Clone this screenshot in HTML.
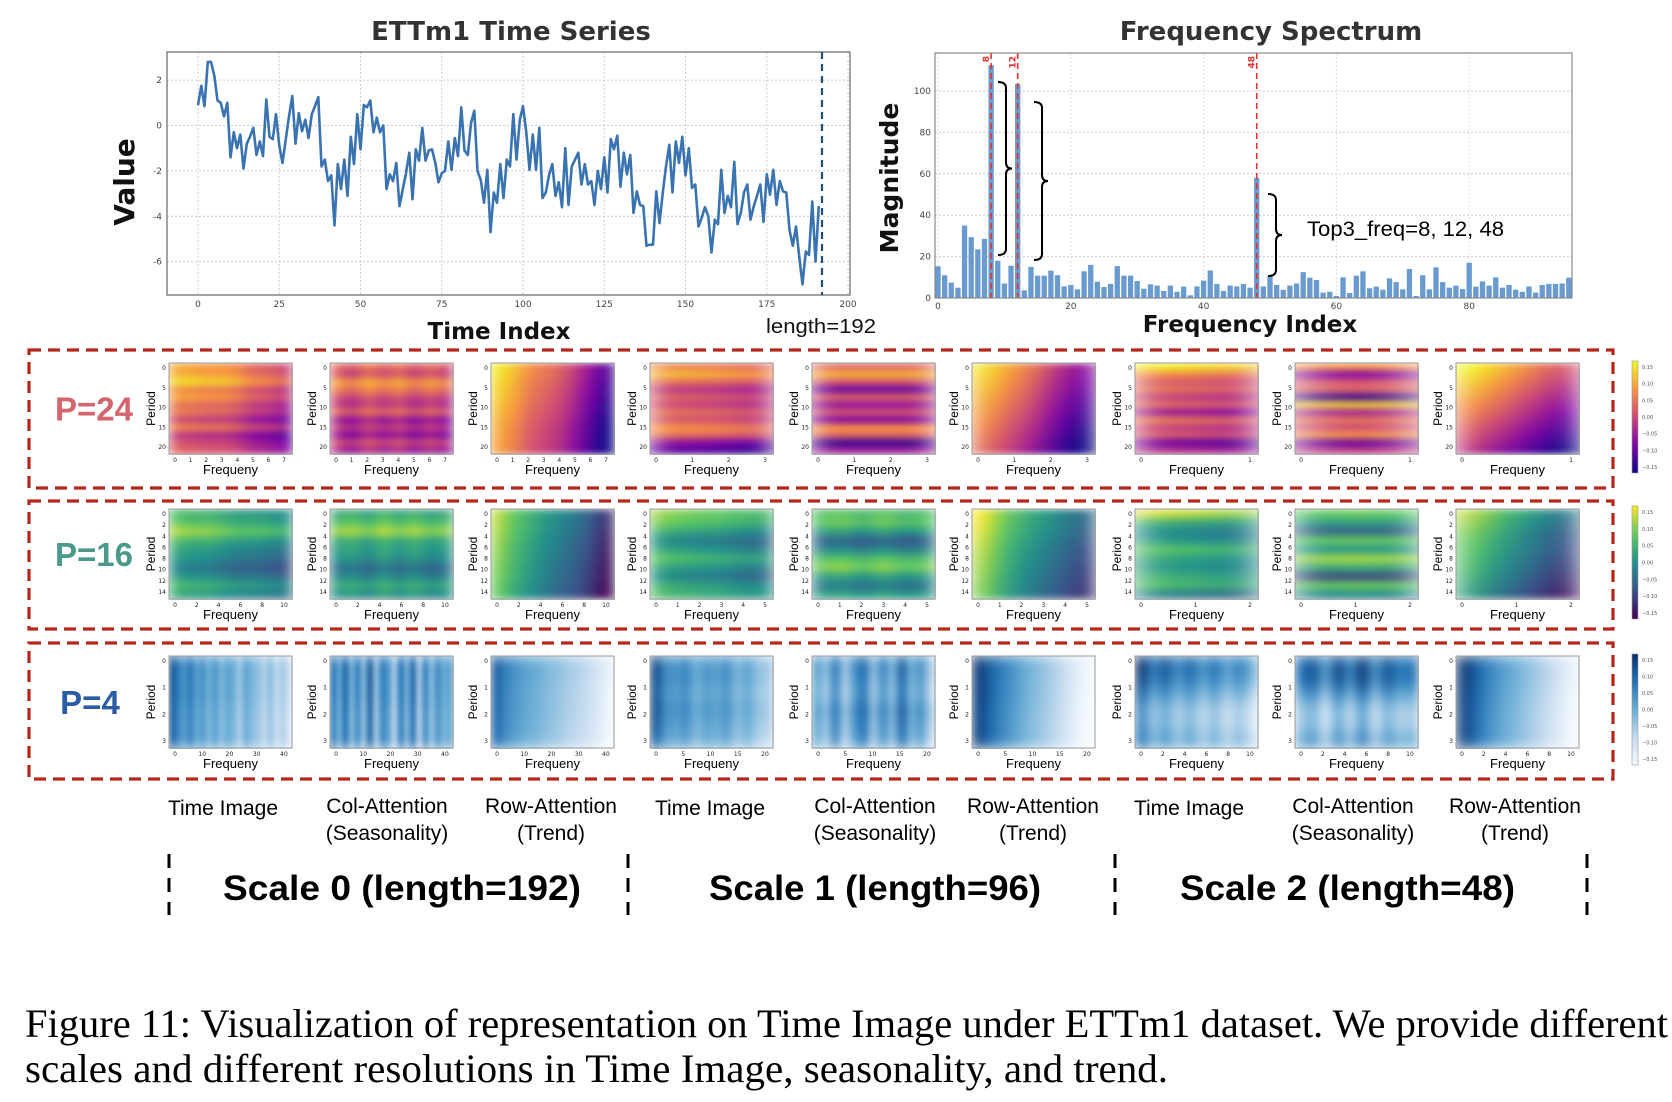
<!DOCTYPE html>
<html><head><meta charset="utf-8">
<style>
html,body{margin:0;padding:0;background:#fff;}
svg{display:block;}
</style></head>
<body>
<svg id="fig" width="1672" height="1102" viewBox="0 0 1672 1102" xmlns="http://www.w3.org/2000/svg" font-family="'DejaVu Sans', 'Liberation Sans', sans-serif">
  <defs id="defs"></defs>
  <g id="ts"></g>
  <g id="fs"></g>
  <g id="hm"></g>
  <g id="bottom">
    <text x="25" y="1037" font-family="'Liberation Serif', serif" font-size="40" textLength="1643" lengthAdjust="spacingAndGlyphs" fill="#000">Figure 11: Visualization of representation on Time Image under ETTm1 dataset. We provide different</text>
    <text x="25" y="1082" font-family="'Liberation Serif', serif" font-size="40" textLength="1143" lengthAdjust="spacingAndGlyphs" fill="#000">scales and different resolutions in Time Image, seasonality, and trend.</text>
  </g>
</svg>
<script>
// ---------- data ----------
const tsValues = [0.9,1.75,0.85,2.8,2.8,2.2,1.1,1.0,0.4,1.0,-1.4,-0.3,-1,-0.4,-1.9,-0.8,-0.5,-0.1,-1.3,-0.7,-1.35,1.15,-0.5,-0.6,0.5,-0.9,-1.65,-0.6,0.4,1.3,-0.8,0.55,-0.25,0.25,-0.55,0.5,0.85,1.25,-1.8,-1.5,-2.45,-2.2,-4.4,-1.7,-2.8,-1.5,-3.1,-0.5,-1.7,0.5,-1.05,0.9,0.8,1.1,-0.3,0.35,-0.3,0,-2.8,-2.15,-2.45,-1.65,-3.55,-2.8,-2.1,-1.2,-3.25,-1.05,-1.55,-0.1,-1.55,-1.1,-1.05,-1.65,-2.5,-2.1,-2,-0.7,-1.95,-0.55,-1.35,0.8,-1.1,-1.3,0.1,0.65,-2,-2.4,-3.4,-1.95,-4.7,-2.95,-3.4,-1.7,-3.2,-1.5,-1.8,0.5,-1.5,0.25,0.85,-0.3,-1.95,-0.4,-1.95,-0.1,-3.2,-2.95,-2.2,-1.7,-3.1,-2.5,-3.6,-1,-3.5,-1.8,-1.5,-1.2,-2.6,-1.7,-2.6,-2.45,-3.5,-2,-2.8,-1.4,-2.95,-0.6,-1.05,-0.45,-2.7,-1.2,-2.15,-1.3,-3.85,-2.9,-3.5,-3.55,-5.3,-5.25,-5.25,-2.9,-4.3,-2.95,-1.8,-0.85,-2.95,-0.7,-1.65,-0.5,-2.2,-1,-2.75,-2.6,-4.45,-4.05,-3.6,-4,-5.6,-4.15,-4.35,-1.95,-3.85,-3.1,-3.6,-1.6,-4.35,-3.85,-2.95,-2.6,-4.15,-3.55,-3.1,-2.6,-4.25,-2.15,-3.05,-1.95,-3.5,-2.45,-2.9,-2.95,-4.6,-5.3,-4.45,-5.8,-7,-5.55,-5.7,-3.35,-6,-3.55];
const tsXTicks = [0,25,50,75,100,125,150,175,200];
const tsYTicks = [2,0,-2,-4,-6];
const seriesLength = 192;

const specMagnitudes = [15.3,11,7.4,5,35,29.4,23.5,28.6,112.5,18,7,15.6,103.4,3.7,15,10.8,10.8,13.2,11,5.6,6.3,4.2,12.9,16,7.9,5.3,6.8,15.4,10.8,10.8,8.2,4.5,6.6,6,3.4,6,3,5.5,1.3,5.6,8.4,13.3,6.8,3.4,6,5.6,6.8,5,58,5.6,10.4,6.3,4,6,7,12.5,9.8,8.7,2.6,3,1,10,2.4,10.8,12.9,4.7,5.5,4,9.5,7.7,4.2,14,1,11,4.2,14.8,7.7,5,6,4.3,17,5.5,8,6,10,5,6.3,4,3,5.6,2.6,6.3,6.8,6.8,7,9.8];
const topFreqs = [8,12,48];
const specXTicks = [0,20,40,60,80];
const specYTicks = [0,20,40,60,80,100];

// heatmap profiles: value(r,c) = rowProfile[r] + colProfile[c]
const hmRowProfiles = [
 [0.7,0.72,0.85,0.62,0.7,0.55,0.58,0.4,0.62,0.35,0.45,0.5],
 [0.6,0.5,0.75,0.65,0.5,0.42,0.6,0.3,0.45,0.28,0.5,0.35],
 [0.12,0.1,0.08,0.06,0.04,0.02,0,-0.02,-0.04,-0.05,-0.06,-0.07],
 [0.65,0.8,0.6,0.4,0.55,0.45,0.6,0.5,0.7,0.6,0.25,0.15],
 [0.6,0.82,0.55,0.2,0.6,0.3,0.55,0.25,0.75,0.6,0.1,0.35],
 [0.1,0.07,0.04,0.01,-0.02,-0.05,-0.08,-0.11,-0.14,-0.17,-0.2,-0.22],
 [0.95,0.7,0.55,0.62,0.45,0.6,0.3,0.65,0.45,0.55,0.2,0.4],
 [0.75,0.25,0.55,0.6,0.1,0.9,0.35,0.65,0.5,0.75,0.2,0.45],
 [0.2,0.15,0.1,0.05,0,-0.05,-0.1,-0.15,-0.2,-0.25,-0.3,-0.35],
 [0.6,0.65,0.8,0.6,0.5,0.45,0.35,0.45,0.6,0.5],
 [0.6,0.7,0.85,0.6,0.55,0.5,0.35,0.45,0.6,0.5],
 [0.05,0.04,0.02,0,-0.02,-0.03,-0.05,-0.06,-0.08,-0.1],
 [0.8,0.75,0.6,0.45,0.55,0.7,0.55,0.45,0.6,0.65],
 [0.7,0.75,0.55,0.3,0.45,0.7,0.8,0.55,0.4,0.55],
 [0.1,0.08,0.06,0.03,0,-0.02,-0.04,-0.06,-0.08,-0.1],
 [0.9,0.6,0.45,0.5,0.7,0.55,0.5,0.6,0.65,0.4],
 [0.75,0.55,0.3,0.75,0.5,0.85,0.6,0.2,0.75,0.45],
 [0.15,0.1,0.05,0.02,0,-0.03,-0.06,-0.1,-0.14,-0.18],
 [0.02,0,0,-0.03,-0.05,-0.03],
 [0.02,0,0,-0.03,-0.05,-0.03],
 [0.03,0.02,0,0,-0.02,-0.03],
 [0.05,0.05,0,0.05,0,-0.05],
 [0.05,0,-0.05,0.05,0,-0.05],
 [0.02,0,0,-0.02,-0.03,-0.03],
 [0.25,0.2,0.05,-0.1,-0.1,0.0],
 [0.25,0.25,0.05,-0.15,-0.15,0.0],
 [0.03,0.02,0,-0.02,-0.03,-0.03]
];
const hmColProfiles = [
 [0.1,0.08,0.05,0.05,0,-0.1,-0.12,-0.2],
 [0.05,-0.05,0.1,-0.02,0.08,-0.06,0.05,-0.05],
 [0.85,0.75,0.62,0.55,0.48,0.35,0.2,0.05],
 [0.05,0.03,0,-0.05],
 [0,0,0,0],
 [0.85,0.7,0.55,0.35,0.2],
 [0.03,0,-0.05],
 [0,0],
 [0.8,0.65,0.5,0.35],
 [0.1,0.05,0.05,0,-0.05,-0.05,-0.08,-0.12],
 [0,0.05,-0.05,0.08,-0.03,0.06,-0.05,0],
 [0.85,0.7,0.6,0.5,0.42,0.35,0.25,0.1],
 [0.05,0,-0.03,-0.05,-0.1,-0.12],
 [0,0.05,-0.05,0.05,-0.05,0],
 [0.9,0.7,0.55,0.45,0.35,0.25],
 [0.05,0,-0.05],
 [0,0.03,0],
 [0.75,0.55,0.4,0.25],
 [0.85,0.7,0.6,0.72,0.55,0.62,0.48,0.6,0.45,0.55,0.5,0.35,0.55,0.45,0.4,0.3,0.42,0.25,0.35,0.2],
 [0.75,0.5,0.8,0.45,0.7,0.4,0.85,0.35,0.7,0.6,0.3,0.75,0.45,0.8,0.3,0.7,0.4,0.65,0.5,0.55],
 [0.8,0.65,0.58,0.52,0.48,0.42,0.38,0.32,0.28,0.22,0.14,0.05],
 [0.85,0.6,0.55,0.62,0.45,0.55,0.5,0.58,0.4,0.5,0.35,0.3],
 [0.55,0.35,0.7,0.3,0.6,0.75,0.35,0.65,0.4,0.8,0.45,0.6,0.3],
 [0.95,0.8,0.68,0.58,0.48,0.4,0.32,0.22,0.1,0.02],
 [0.75,0.45,0.6,0.4,0.55,0.35,0.5,0.3,0.45,0.25],
 [0.5,0.6,0.3,0.65,0.4,0.7,0.35,0.6,0.45,0.5],
 [0.95,0.75,0.6,0.5,0.4,0.3,0.18,0.05]
];
const hmXTickLabels = [
 ["0","1","2","3","4","5","6","7"],["0","1","2","3","4","5","6","7"],["0","1","2","3","4","5","6","7"],
 ["0","1","2","3"],["0","1","2","3"],["0","1","2","3"],["0","1"],["0","1"],["0","1"],
 ["0","2","4","6","8","10"],["0","2","4","6","8","10"],["0","2","4","6","8","10"],
 ["0","1","2","3","4","5"],["0","1","2","3","4","5"],["0","1","2","3","4","5"],["0","1","2"],["0","1","2"],["0","1","2"],
 ["0","10","20","30","40"],["0","10","20","30","40"],["0","10","20","30","40"],
 ["0","5","10","15","20"],["0","5","10","15","20"],["0","5","10","15","20"],
 ["0","2","4","6","8","10"],["0","2","4","6","8","10"],["0","2","4","6","8","10"]
];
const hmYTickLabels = [["0","5","10","15","20"],["0","2","4","6","8","10","12","14"],["0","1","2","3"]];
const periodLabels = ["P=24","P=16","P=4"];
const colTitles1 = ["Time Image","Col-Attention","Row-Attention"];
const colTitles2 = ["","(Seasonality)","(Trend)"];
const scaleLabels = ["Scale 0 (length=192)","Scale 1 (length=96)","Scale 2 (length=48)"];
const cbarTickLabels = ["0.15","0.10","0.05","0.00","\u22120.05","\u22120.10","\u22120.15"];

// ---------- helpers ----------
const NS = "http://www.w3.org/2000/svg";
function mk(tag, attrs, parent, txt){
  const e = document.createElementNS(NS, tag);
  for (const k in attrs) e.setAttribute(k, attrs[k]);
  if (txt !== undefined) e.textContent = txt;
  parent.appendChild(e);
  return e;
}
const defs = document.getElementById('defs');
const cmaps = {
  plasma: ["#0d0887","#7e03a8","#cc4778","#f89540","#f0f921"],
  viridis: ["#440154","#3b528b","#21918c","#5ec962","#fde725"],
  blues: ["#f7fbff","#c6dbef","#6baed6","#2171b5","#08306b"]
};
function hex(h){return [parseInt(h.substr(1,2),16),parseInt(h.substr(3,2),16),parseInt(h.substr(5,2),16)];}
function cmap(name, v){
  v = Math.max(0, Math.min(1, v));
  const s = cmaps[name], t = v*(s.length-1), i = Math.min(Math.floor(t), s.length-2), f = t-i;
  const a = hex(s[i]), b = hex(s[i+1]);
  return "rgb(" + a.map((x,k)=>Math.round(x+(b[k]-x)*f)).join(",") + ")";
}

// ---------- time series chart ----------
(function(){
  const g = document.getElementById('ts');
  const L=167,R=850,T=52,B=295;
  const xs = i => 198 + i*(650/200);
  const ys = v => 125.5 - v*22.7;
  mk('text',{x:511,y:40,'text-anchor':'middle','font-size':26,'font-weight':'bold',fill:'#333',},g,'ETTm1 Time Series');
  tsYTicks.forEach(v=>{
    const gl = mk('line',{x1:L,x2:R,y1:ys(v),y2:ys(v),stroke:'#ccc','stroke-dasharray':'2 2','stroke-width':1},g);
     
    const t = mk('text',{x:L-5,y:ys(v)+3,'text-anchor':'end','font-size':9,fill:'#444'},g,String(v));
     
  });
  tsXTicks.forEach(v=>{
    const gl = mk('line',{x1:xs(v),x2:xs(v),y1:T,y2:B,stroke:'#ccc','stroke-dasharray':'2 2','stroke-width':1},g);
     
    const t = mk('text',{x:xs(v),y:B+12,'text-anchor':'middle','font-size':9,fill:'#444'},g,String(v));
     
  });
  const fr = mk('rect',{x:L,y:T,width:R-L,height:B-T,fill:'none',stroke:'#666','stroke-width':1.2},g);
   
  const pts = tsValues.map((v,i)=>xs(i).toFixed(1)+","+ys(v).toFixed(1)).join(" ");
  const line = mk('polyline',{points:pts,fill:'none',stroke:'#3a73b1','stroke-width':2.6,'stroke-linejoin':'round'},g);
   
  const dl = mk('line',{x1:xs(seriesLength),x2:xs(seriesLength),y1:T,y2:B,stroke:'#1f4e79','stroke-width':2.2,'stroke-dasharray':'7 5'},g);
   
  mk('text',{x:134,y:182,'text-anchor':'middle','font-size':28,'font-weight':'bold',fill:'#111',transform:'rotate(-90 134 182)',},g,'Value');
  mk('text',{x:499,y:339,'text-anchor':'middle','font-size':23,'font-weight':'bold',fill:'#111',},g,'Time Index');
  mk('text',{x:766,y:333,'font-size':20,fill:'#111','font-family':"'Liberation Sans', sans-serif",textLength:110,lengthAdjust:'spacingAndGlyphs',},g,'length=192');
})();

// ---------- frequency spectrum ----------
(function(){
  const g = document.getElementById('fs');
  const L=935,R=1572,T=53,B=298;
  const xs = i => 938 + i*6.64;
  const ys = v => 298 - v*2.07;
  mk('text',{x:1271,y:40,'text-anchor':'middle','font-size':26,'font-weight':'bold',fill:'#333',},g,'Frequency Spectrum');
  specYTicks.forEach(v=>{
    const gl = mk('line',{x1:L,x2:R,y1:ys(v),y2:ys(v),stroke:'#ccc','stroke-dasharray':'2 2'},g);
     
    const t = mk('text',{x:L-4,y:ys(v)+3,'text-anchor':'end','font-size':9,fill:'#444'},g,String(v));
     
  });
  specXTicks.forEach(v=>{
    const gl = mk('line',{x1:xs(v),x2:xs(v),y1:T,y2:B,stroke:'#ddd','stroke-dasharray':'2 2'},g);
     
    const t = mk('text',{x:xs(v),y:B+11,'text-anchor':'middle','font-size':9,fill:'#444'},g,String(v));
     
  });
  specMagnitudes.forEach((v,i)=>{
    const b = mk('rect',{x:xs(i)-2.65,y:ys(v),width:5.3,height:ys(0)-ys(v),fill:'#6a9bd0'},g);
     
  });
  topFreqs.forEach(f=>{
    const l = mk('line',{x1:xs(f),x2:xs(f),y1:T,y2:B,stroke:'#e8312f','stroke-width':1.6,'stroke-dasharray':'6 4'},g);
     
    const t = mk('text',{x:xs(f)-2,y:T+3,'font-size':9,'font-weight':'bold',fill:'#e8312f','text-anchor':'end',transform:'rotate(-90 '+(xs(f)-2)+' '+(T+3)+')'},g,String(f));
     
  });
  const fr = mk('rect',{x:L,y:T,width:R-L,height:B-T,fill:'none',stroke:'#888','stroke-width':1.2},g);
   
  function brace(x0,y1,y2,w,tipW){
    const m=(y1+y2)/2, r=6, xb=x0+w;
    return `M${x0},${y1} Q${xb},${y1} ${xb},${y1+r} L${xb},${m-r} Q${xb},${m} ${xb+tipW},${m} Q${xb},${m} ${xb},${m+r} L${xb},${y2-r} Q${xb},${y2} ${x0},${y2}`;
  }
  [[998,82,255],[1034,102,260],[1268,194,276]].forEach(b=>{
    const p = mk('path',{d:brace(b[0],b[1],b[2],8,6),fill:'none',stroke:'#000','stroke-width':2},g);
     
  });
  mk('text',{x:1307,y:236,'font-size':21,fill:'#000','font-family':"'Liberation Sans', sans-serif",textLength:197,lengthAdjust:'spacingAndGlyphs',},g,'Top3_freq=8, 12, 48');
  mk('text',{x:898,y:178,'text-anchor':'middle','font-size':25,'font-weight':'bold',fill:'#111',transform:'rotate(-90 898 178)',},g,'Magnitude');
  mk('text',{x:1250,y:332,'text-anchor':'middle','font-size':23,'font-weight':'bold',fill:'#111',},g,'Frequency Index');
})();

// ---------- heatmap grid ----------
(function(){
  const g = document.getElementById('hm');
  const lefts = [169,330,491,650,812,972,1135,1295,1456];
  const W = 123;
  const rowsY = [[363,454],[509,599],[656,748]];
  const boxes = [[350,488],[501,629],[643,779]];
  const cm = ['plasma','viridis','blues'];
  const pColors = ['#d5646f','#4a9a8b','#2b5ca6'];
  const pX = [94,94,90];
  const cbars = [[361,473],[506,619],[654,765]];
  for (let r=0;r<3;r++){
    const bx = mk('rect',{x:29,y:boxes[r][0],width:1584,height:boxes[r][1]-boxes[r][0],fill:'none',stroke:'#b5271c','stroke-width':3.2,'stroke-dasharray':'12 7'},g);
     
    const pl = mk('text',{x:pX[r],y:(rowsY[r][0]+rowsY[r][1])/2+12,'text-anchor':'middle','font-size':33,'font-weight':'bold',fill:pColors[r],'font-family':"'Liberation Sans', sans-serif"},g,periodLabels[r]);
     
    const gid = 'cb'+r;
    const lg = mk('linearGradient',{id:gid,x1:0,y1:1,x2:0,y2:0},defs);
    for (let k=0;k<=10;k++) mk('stop',{offset:(k/10),'stop-color':cmap(cm[r],k/10)},lg);
    const cb = mk('rect',{x:1632,y:cbars[r][0],width:6,height:cbars[r][1]-cbars[r][0],fill:'url(#'+gid+')',stroke:'#999','stroke-width':0.6},g);
     
    cbarTickLabels.forEach((lbl,k)=>{
      const yy = cbars[r][0]+6+k*(cbars[r][1]-cbars[r][0]-12)/6;
      const t = mk('text',{x:1642,y:yy+2,'font-size':5,fill:'#555'},g,lbl);
       
    });
    for (let c=0;c<9;c++){
      const idx = r*9+c;
      const rows = hmRowProfiles[idx], cols = hmColProfiles[idx];
      const x0 = lefts[c], y0 = rowsY[r][0], H = rowsY[r][1]-y0;
      const cw = W/cols.length, ch = H/rows.length;
      const fid = 'bl'+idx;
      const f = mk('filter',{id:fid,x:0,y:0,width:1,height:1,'color-interpolation-filters':'sRGB'},defs);
      mk('feGaussianBlur',{stdDeviation:(cw*0.45).toFixed(2)+' '+(ch*0.45).toFixed(2),edgeMode:'duplicate'},f);
      const hg = mk('g',{filter:'url(#'+fid+')'},g);
      
      
      rows.forEach((rv,ri)=>{
        cols.forEach((cv,ci)=>{
          const cell = mk('rect',{x:(x0+ci*cw).toFixed(2),y:(y0+ri*ch).toFixed(2),width:(cw+0.6).toFixed(2),height:(ch+0.6).toFixed(2),fill:cmap(cm[r],rv+cv)},hg);
          
          
        });
      });
      const fr = mk('rect',{x:x0,y:y0,width:W,height:H,fill:'none',stroke:'#999','stroke-width':1},g);
       
      const xt = hmXTickLabels[idx];
      xt.forEach((lbl,k)=>{
        const xx = x0 + 6 + k*(W-14)/Math.max(1,xt.length-1);
        const t = mk('text',{x:xx,y:y0+H+8,'text-anchor':'middle','font-size':6,fill:'#222'},g,lbl);
         
      });
      const yt = hmYTickLabels[r];
      yt.forEach((lbl,k)=>{
        const yy = y0 + 5 + k*(H-12)/Math.max(1,yt.length-1);
        const t = mk('text',{x:x0-3,y:yy+2,'text-anchor':'end','font-size':6,fill:'#222'},g,lbl);
         
      });
      const px = x0-14, py = y0+H/2;
      const pt = mk('text',{x:px,y:py,'text-anchor':'middle','font-size':12,fill:'#000','font-family':"'Liberation Sans', sans-serif",transform:'rotate(-90 '+px+' '+py+')'},g,'Period');
       
      const ft = mk('text',{x:x0+W/2,y:y0+H+20,'text-anchor':'middle','font-size':13,fill:'#000','font-family':"'Liberation Sans', sans-serif"},g,'Frequeny');
       
    }
  }
  const b = document.getElementById('bottom');
  const tiX = [223,710,1189], colX = [387,875,1353], rowX = [551,1033,1515];
  for (let s=0;s<3;s++){
    const t1 = mk('text',{x:tiX[s],y:815,'text-anchor':'middle','font-size':21,fill:'#000','font-family':"'Liberation Sans', sans-serif"},b,colTitles1[0]);
     
    const t2 = mk('text',{x:colX[s],y:813,'text-anchor':'middle','font-size':21,fill:'#000','font-family':"'Liberation Sans', sans-serif"},b,colTitles1[1]);
     
    const t3 = mk('text',{x:colX[s],y:840,'text-anchor':'middle','font-size':21,fill:'#000','font-family':"'Liberation Sans', sans-serif"},b,colTitles2[1]);
     
    const t4 = mk('text',{x:rowX[s],y:813,'text-anchor':'middle','font-size':21,fill:'#000','font-family':"'Liberation Sans', sans-serif"},b,colTitles1[2]);
     
    const t5 = mk('text',{x:rowX[s],y:840,'text-anchor':'middle','font-size':21,fill:'#000','font-family':"'Liberation Sans', sans-serif"},b,colTitles2[2]);
     
  }
  const scX = [223,709,1180], scW = [358,332,335];
  scaleLabels.forEach((lbl,s)=>{
    const t = mk('text',{x:scX[s],y:900,'font-size':35,'font-weight':'bold',fill:'#000','font-family':"'Liberation Sans', sans-serif",textLength:scW[s],lengthAdjust:'spacingAndGlyphs'},b,lbl);
     
  });
  [169,628,1115,1587].forEach(x=>{
    const l = mk('line',{x1:x,x2:x,y1:854,y2:915,stroke:'#000','stroke-width':3,'stroke-dasharray':'14 10'},b);
     
  });
})();
</script>
</body></html>
